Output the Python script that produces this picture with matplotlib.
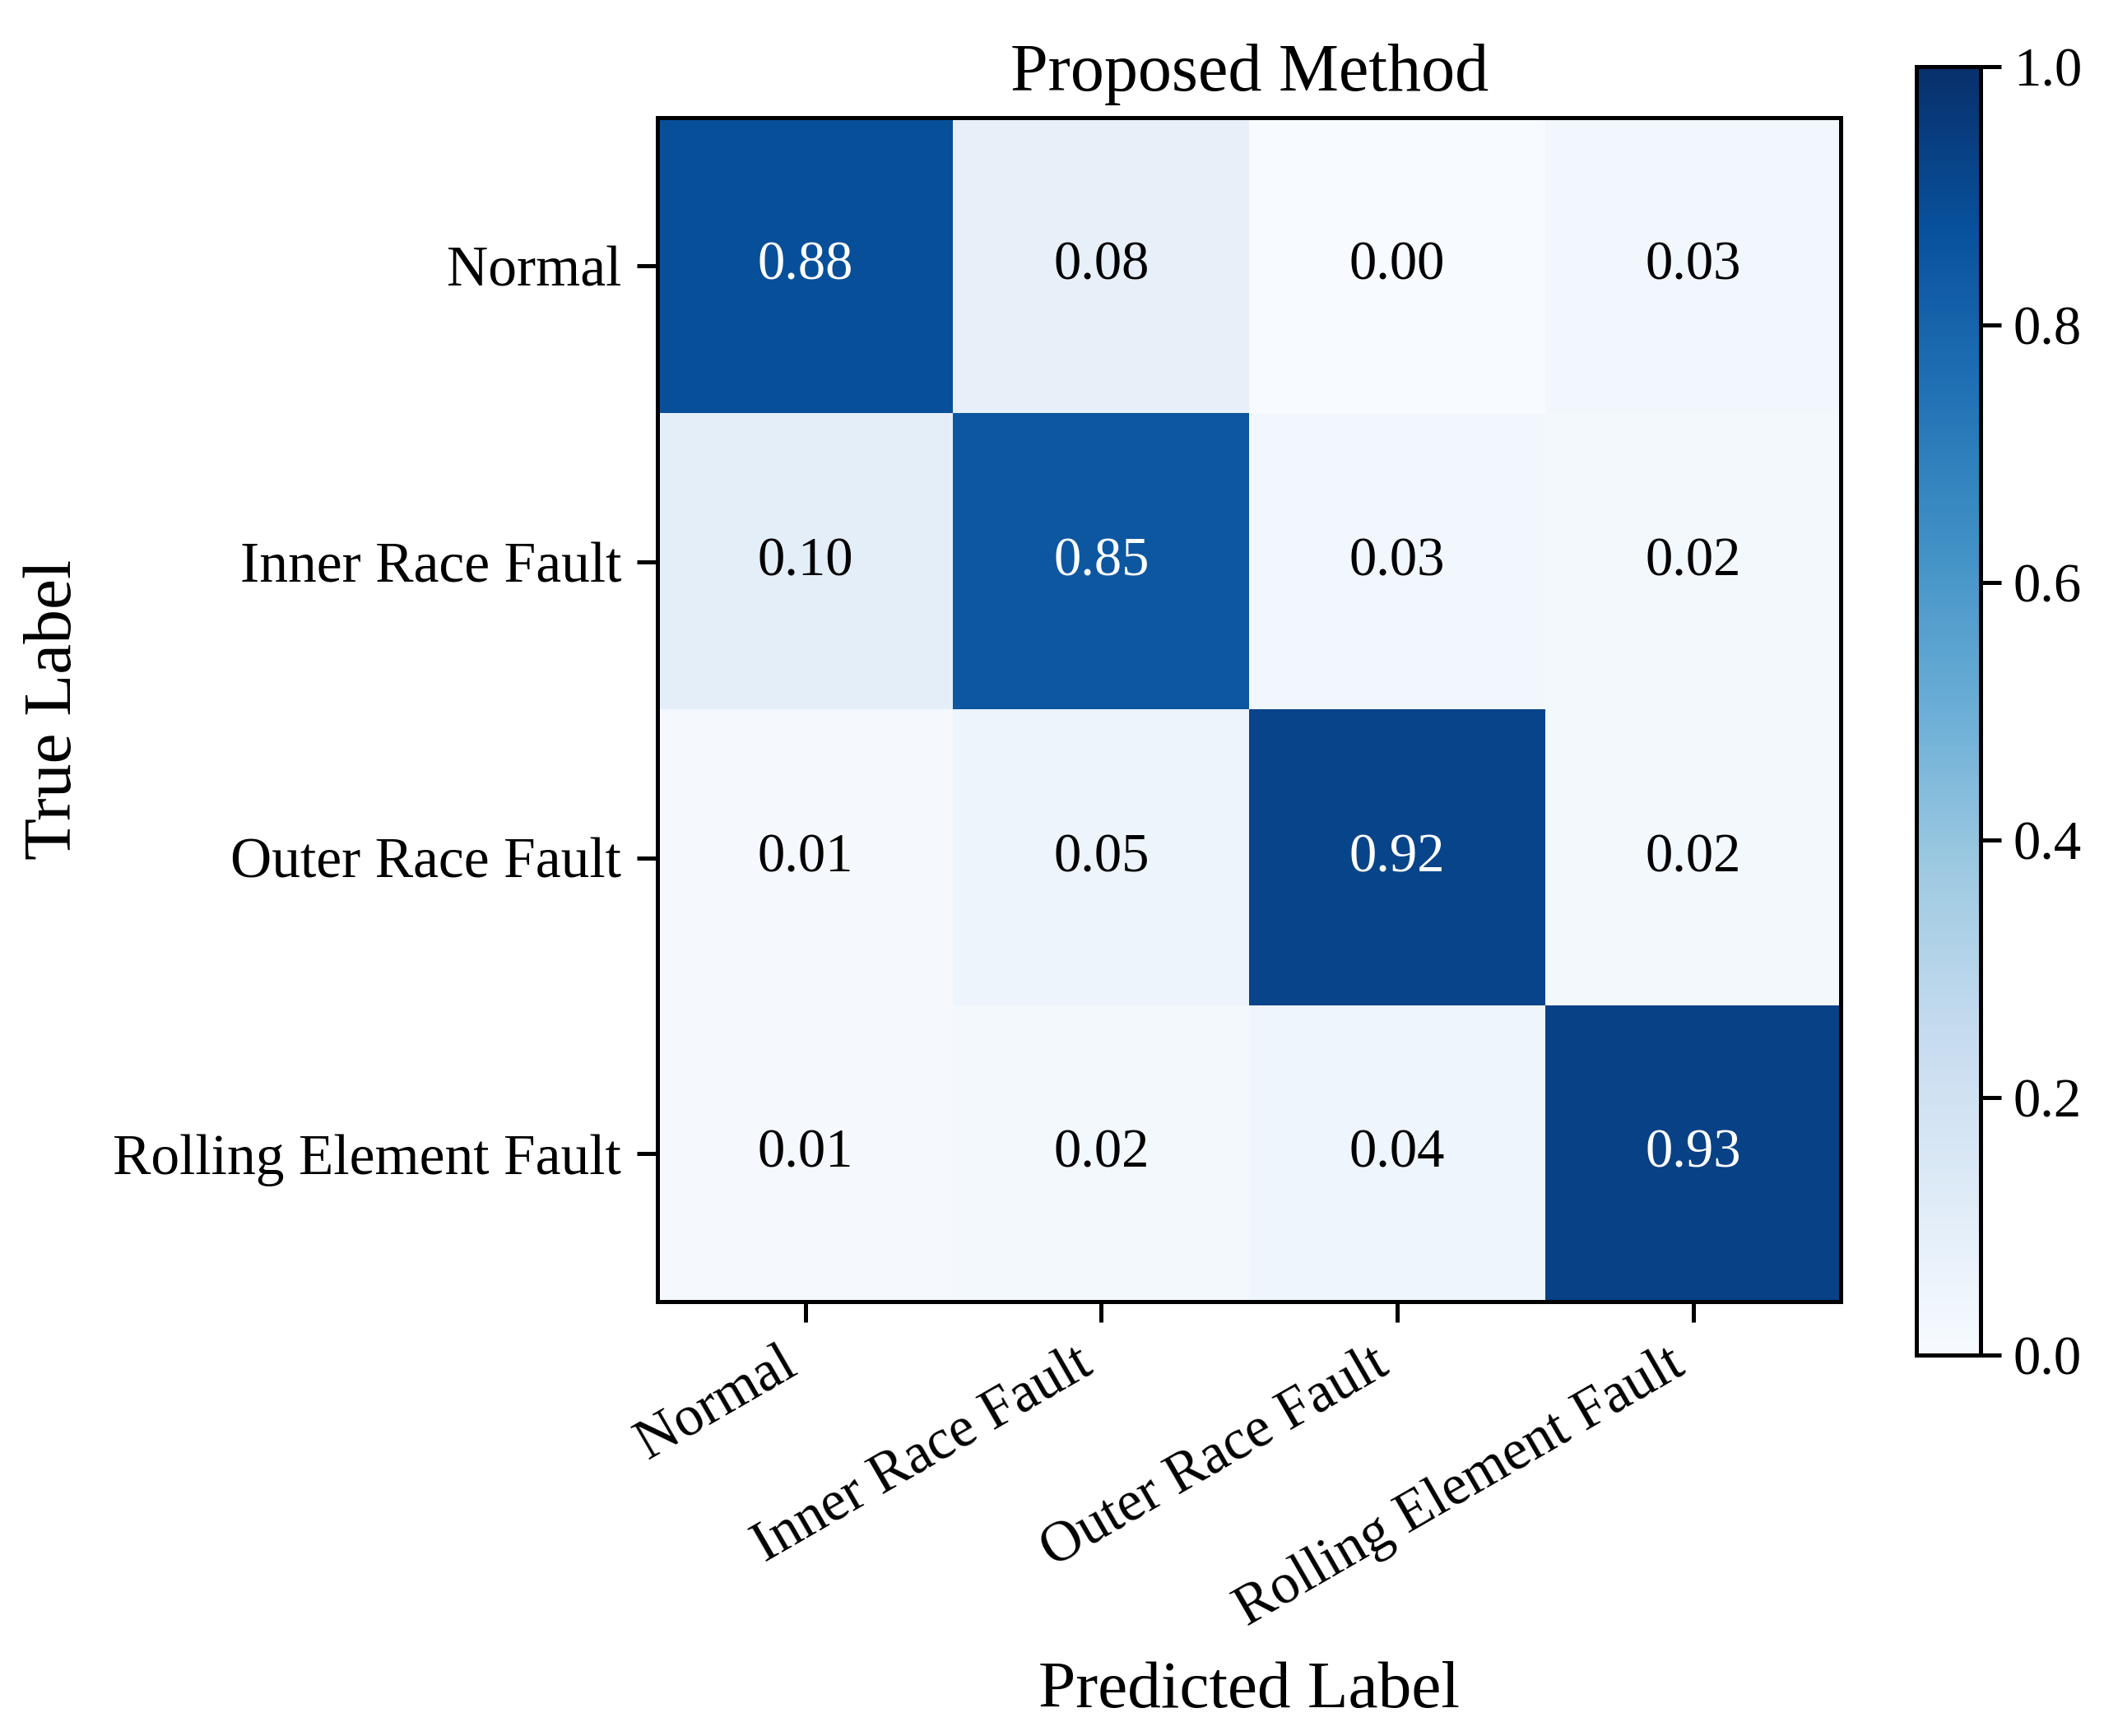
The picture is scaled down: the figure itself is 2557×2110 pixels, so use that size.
import matplotlib
matplotlib.use("Agg")
import matplotlib.pyplot as plt
import numpy as np

classes = ["Normal", "Inner Race Fault", "Outer Race Fault", "Rolling Element Fault"]
cm = np.array([
    [0.88, 0.08, 0.00, 0.03],
    [0.10, 0.85, 0.03, 0.02],
    [0.01, 0.05, 0.92, 0.02],
    [0.01, 0.02, 0.04, 0.93],
])
cbar_ticks = [0.0, 0.2, 0.4, 0.6, 0.8, 1.0]

plt.rcParams['font.family'] = ['Liberation Serif', 'DejaVu Serif']

fig = plt.figure(figsize=(2557 / 300, 2110 / 300), dpi=300)
ax = fig.add_axes([0.3125, 0.2502, 0.5625, 0.6818])
cax = fig.add_axes([0.911, 0.2194, 0.0305, 0.742])

im = ax.imshow(cm, cmap='Blues', vmin=0, vmax=1, interpolation='nearest', aspect='auto')
cb = fig.colorbar(im, cax=cax, ticks=cbar_ticks)
cb.ax.set_yticklabels(["%.1f" % t for t in cbar_ticks])
cb.ax.tick_params(labelsize=16, length=6, width=1.2)
cb.outline.set_linewidth(1.2)

ax.set_xticks(range(len(classes)))
ax.set_yticks(range(len(classes)))
ax.set_xticklabels(classes, rotation=30, ha='right')
ax.set_yticklabels(classes)
ax.tick_params(labelsize=16.7, length=6, width=1.2, pad=4.6)
for s in ax.spines.values():
    s.set_linewidth(1.2)

for i in range(cm.shape[0]):
    for j in range(cm.shape[1]):
        ax.text(j, i, "%.2f" % cm[i, j], ha='center', va='center', fontsize=16,
                color='white' if cm[i, j] > 0.5 else 'black')

ax.set_title("Proposed Method", fontsize=19.7, pad=8)
ax.set_xlabel("Predicted Label", fontsize=19.5, labelpad=7)
ax.set_ylabel("True Label", fontsize=20, labelpad=8)

fig.savefig("out.png", dpi=300)
